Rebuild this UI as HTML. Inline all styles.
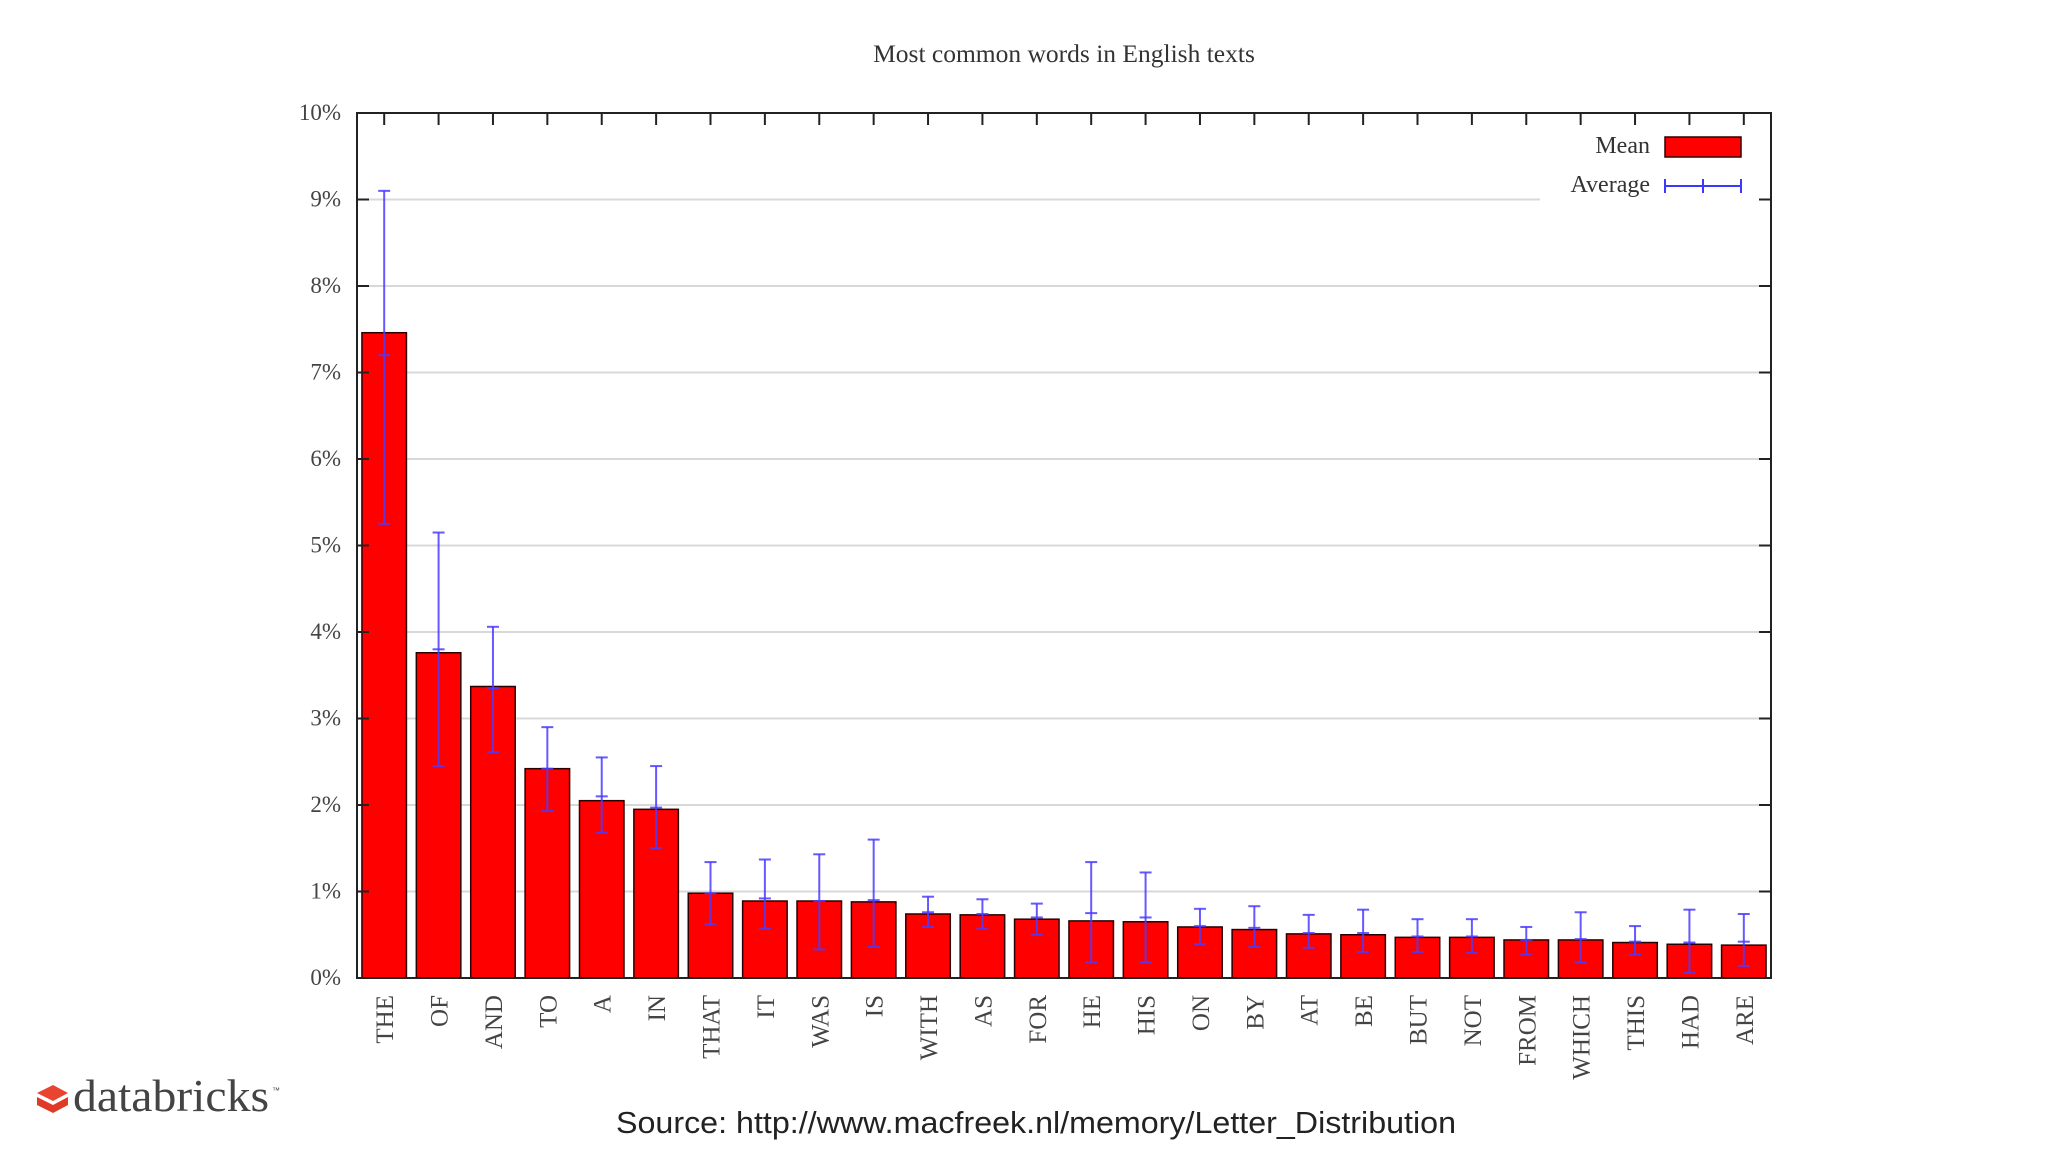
<!DOCTYPE html>
<html><head><meta charset="utf-8"><style>
html,body{margin:0;padding:0;background:#fff;}
body{width:2048px;height:1152px;position:relative;overflow:hidden;}
svg{position:absolute;left:0;top:0;}
</style></head><body>
<svg id="chart" width="2048" height="1152" xmlns="http://www.w3.org/2000/svg">
  <text x="1064" y="62" text-anchor="middle" font-family="Liberation Serif, serif" font-size="25.5" fill="#333">Most common words in English texts</text>
  <g id="grid"></g>
  <g id="bars"></g>
  <g id="axes"></g>
  <g>
    <text x="1650" y="153" text-anchor="end" font-family="Liberation Serif, serif" font-size="24" fill="#333">Mean</text>
    <rect x="1665" y="137" width="76" height="20" fill="#ff0000" stroke="#300" stroke-width="1.5"/>
    <text x="1650" y="192" text-anchor="end" font-family="Liberation Serif, serif" font-size="24" fill="#333">Average</text>
    <g stroke="#3a3aff" stroke-width="2">
      <line x1="1665" y1="186" x2="1741" y2="186"/>
      <line x1="1665" y1="179" x2="1665" y2="193"/>
      <line x1="1703" y1="179" x2="1703" y2="193"/>
      <line x1="1741" y1="179" x2="1741" y2="193"/>
    </g>
  </g>
  <g>
    <polygon points="37,1093 53,1085 68,1093 53,1101" fill="#e8442f"/>
    <polygon points="37,1097 53,1105 68,1097 68,1105 53,1113 37,1105" fill="#e03a26"/>
    <text x="73" y="1111" font-family="Liberation Serif, serif" font-size="46" fill="#444" textLength="196" lengthAdjust="spacingAndGlyphs">databricks</text>
    <text x="272" y="1093" font-family="Liberation Sans, sans-serif" font-size="8" fill="#444">™</text>
  </g>
  <text x="1036" y="1133" text-anchor="middle" font-family="Liberation Sans, sans-serif" font-size="31" fill="#222" textLength="840" lengthAdjust="spacingAndGlyphs">Source: http://www.macfreek.nl/memory/Letter_Distribution</text>
</svg>
<script>
const words = ["THE","OF","AND","TO","A","IN","THAT","IT","WAS","IS","WITH","AS","FOR","HE","HIS","ON","BY","AT","BE","BUT","NOT","FROM","WHICH","THIS","HAD","ARE"];
const meanVals = [7.46,3.76,3.37,2.42,2.05,1.95,0.98,0.89,0.89,0.88,0.74,0.73,0.68,0.66,0.65,0.59,0.56,0.51,0.50,0.47,0.47,0.44,0.44,0.41,0.39,0.38];
const avgVals = [7.2,3.8,3.35,2.42,2.1,1.97,0.98,0.92,0.89,0.9,0.76,0.74,0.7,0.75,0.7,0.6,0.58,0.52,0.52,0.48,0.48,0.44,0.45,0.42,0.41,0.42];
const errHigh = [9.1,5.15,4.06,2.9,2.55,2.45,1.34,1.37,1.43,1.6,0.94,0.91,0.86,1.34,1.22,0.8,0.83,0.73,0.79,0.68,0.68,0.59,0.76,0.6,0.79,0.74];
const errLow = [5.25,2.45,2.61,1.93,1.68,1.5,0.62,0.57,0.33,0.36,0.59,0.57,0.5,0.18,0.18,0.39,0.36,0.35,0.3,0.3,0.29,0.27,0.18,0.27,0.06,0.14];
const yTicks = [0,1,2,3,4,5,6,7,8,9,10];

const NS="http://www.w3.org/2000/svg";
const L=357, R=1771, B=978, T=113;
const y = v => B - v*(B-T)/10;
const pitch = (R-L)/words.length;
const xc = i => L + pitch*(i+0.5);
function mk(tag, attrs, parent){const e=document.createElementNS(NS,tag);for(const k in attrs)e.setAttribute(k,attrs[k]);parent.appendChild(e);return e;}
const grid=document.getElementById('grid'), bars=document.getElementById('bars'), axes=document.getElementById('axes');

yTicks.forEach(t=>{
  if(t>0 && t<10){
    const g=mk('line',{x1:L,x2:(t===9?1540:R),y1:y(t),y2:y(t),stroke:'#d8d8d8','stroke-width':2},grid);
    
    
  }
  const lab=mk('text',{x:L-16,y:y(t)+7,'text-anchor':'end','font-family':'Liberation Serif, serif','font-size':23,fill:'#444'},axes);
  lab.textContent=t+'%';
  
  
  mk('line',{x1:L,x2:L+12,y1:y(t),y2:y(t),stroke:'#222','stroke-width':2},axes);
  mk('line',{x1:R,x2:R-12,y1:y(t),y2:y(t),stroke:'#222','stroke-width':2},axes);
});

words.forEach((w,i)=>{
  const bw=44.5;
  const r=mk('rect',{x:xc(i)-bw/2,y:y(meanVals[i]),width:bw,height:B-y(meanVals[i]),fill:'#ff0000',stroke:'#2a0000','stroke-width':1.5},bars);
  
  
  const e=mk('g',{stroke:'#4a3cff','stroke-width':2,'stroke-opacity':0.85},bars);
  
  
  mk('line',{x1:xc(i),x2:xc(i),y1:y(errHigh[i]),y2:y(errLow[i])},e);
  mk('line',{x1:xc(i)-6,x2:xc(i)+6,y1:y(errHigh[i]),y2:y(errHigh[i])},e);
  mk('line',{x1:xc(i)-6,x2:xc(i)+6,y1:y(errLow[i]),y2:y(errLow[i])},e);
  mk('line',{x1:xc(i)-6,x2:xc(i)+6,y1:y(avgVals[i]),y2:y(avgVals[i])},e);
  mk('line',{x1:xc(i),x2:xc(i),y1:T,y2:T+12,stroke:'#222','stroke-width':2},axes);
  const lab=mk('text',{transform:`translate(${xc(i)+9},${B+17}) rotate(-90)`,'text-anchor':'end','font-family':'Liberation Serif, serif','font-size':25,fill:'#444'},axes);
  lab.textContent=w;
  
  
});
const frame=mk('rect',{x:L,y:T,width:R-L,height:B-T,fill:'none',stroke:'#222','stroke-width':2},axes);


</script>
</body></html>
